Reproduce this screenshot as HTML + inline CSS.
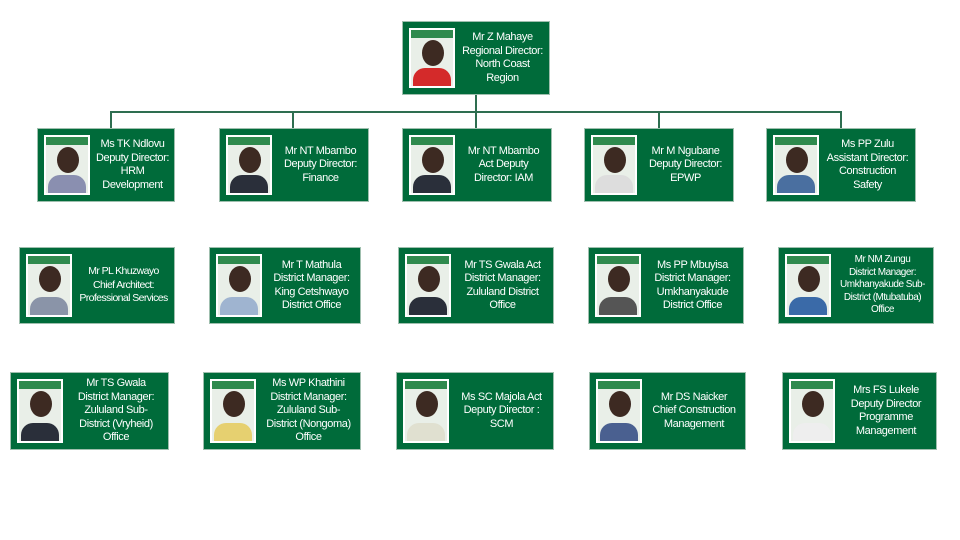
<!DOCTYPE html>
<html><head><meta charset="utf-8"><style>
body{margin:0;width:960px;height:540px;background:#fff;position:relative;overflow:hidden;font-family:"Liberation Sans",sans-serif}
.b{position:absolute;background:#006b3a;border:1px solid #9fbfae;box-sizing:border-box}
.p{position:absolute;left:6px;top:6px;bottom:6px;width:46px;background:#e9efe8;border:2px solid #fff;box-sizing:border-box;overflow:hidden}
.p:before{content:"";position:absolute;left:0;right:0;top:0;height:8px;background:#2f8a4e}
.p .h{position:absolute;left:11px;top:10px;width:22px;height:26px;border-radius:50%;background:#3d2a22}
.p .s{position:absolute;left:2px;right:2px;bottom:0;height:18px;border-radius:12px 12px 0 0;background:#2a2f3a}
.t{position:absolute;left:54px;right:1px;top:0;bottom:0;display:flex;align-items:center;justify-content:center;text-align:center;color:#fff;font-size:11px;line-height:13.5px;letter-spacing:-0.4px;white-space:nowrap}
.l{position:absolute;background:#2e6e50}
</style></head><body>
<div class="l" style="left:475px;top:95px;width:2px;height:34px"></div>
<div class="l" style="left:110px;top:111px;width:732px;height:2px"></div>
<div class="l" style="left:110px;top:111px;width:2px;height:18px"></div>
<div class="l" style="left:292px;top:111px;width:2px;height:18px"></div>
<div class="l" style="left:658px;top:111px;width:2px;height:18px"></div>
<div class="l" style="left:840px;top:111px;width:2px;height:18px"></div>

<div class="b" style="left:402px;top:21px;width:148px;height:74px"><div class="p"><div class="h"></div><div class="s" style="background:#d42a2a"></div></div><div class="t">Mr Z Mahaye<br>Regional Director:<br>North Coast<br>Region</div></div>

<div class="b" style="left:37px;top:128px;width:138px;height:74px"><div class="p"><div class="h"></div><div class="s" style="background:#8a8fb0"></div></div><div class="t">Ms TK Ndlovu<br>Deputy Director:<br>HRM<br>Development</div></div>
<div class="b" style="left:219px;top:128px;width:150px;height:74px"><div class="p"><div class="h"></div><div class="s"></div></div><div class="t">Mr NT Mbambo<br>Deputy Director:<br>Finance</div></div>
<div class="b" style="left:402px;top:128px;width:150px;height:74px"><div class="p"><div class="h"></div><div class="s"></div></div><div class="t">Mr NT Mbambo<br>Act Deputy<br>Director: IAM</div></div>
<div class="b" style="left:584px;top:128px;width:150px;height:74px"><div class="p"><div class="h"></div><div class="s" style="background:#ddd"></div></div><div class="t">Mr M Ngubane<br>Deputy Director:<br>EPWP</div></div>
<div class="b" style="left:766px;top:128px;width:150px;height:74px"><div class="p"><div class="h"></div><div class="s" style="background:#4a6fa0"></div></div><div class="t">Ms PP Zulu<br>Assistant Director:<br>Construction<br>Safety</div></div>

<div class="b" style="left:19px;top:247px;width:156px;height:77px"><div class="p"><div class="h"></div><div class="s" style="background:#8a94a8"></div></div><div class="t" style="font-size:10.5px;letter-spacing:-0.6px">Mr PL Khuzwayo<br>Chief Architect:<br>Professional Services</div></div>
<div class="b" style="left:209px;top:247px;width:152px;height:77px"><div class="p"><div class="h"></div><div class="s" style="background:#9fb4d0"></div></div><div class="t">Mr T Mathula<br>District Manager:<br>King Cetshwayo<br>District Office</div></div>
<div class="b" style="left:398px;top:247px;width:156px;height:77px"><div class="p"><div class="h"></div><div class="s"></div></div><div class="t">Mr TS Gwala Act<br>District Manager:<br>Zululand District<br>Office</div></div>
<div class="b" style="left:588px;top:247px;width:156px;height:77px"><div class="p"><div class="h"></div><div class="s" style="background:#555"></div></div><div class="t">Ms PP Mbuyisa<br>District Manager:<br>Umkhanyakude<br>District Office</div></div>
<div class="b" style="left:778px;top:247px;width:156px;height:77px"><div class="p"><div class="h"></div><div class="s" style="background:#3a6aa8"></div></div><div class="t" style="font-size:10px;line-height:12.5px;letter-spacing:-0.5px">Mr NM Zungu<br>District Manager:<br>Umkhanyakude Sub-<br>District (Mtubatuba)<br>Office</div></div>

<div class="b" style="left:10px;top:372px;width:159px;height:78px"><div class="p"><div class="h"></div><div class="s"></div></div><div class="t">Mr TS Gwala<br>District Manager:<br>Zululand Sub-<br>District (Vryheid)<br>Office</div></div>
<div class="b" style="left:203px;top:372px;width:158px;height:78px"><div class="p"><div class="h"></div><div class="s" style="background:#e6d070"></div></div><div class="t">Ms WP Khathini<br>District Manager:<br>Zululand Sub-<br>District (Nongoma)<br>Office</div></div>
<div class="b" style="left:396px;top:372px;width:158px;height:78px"><div class="p"><div class="h"></div><div class="s" style="background:#e0e0d0"></div></div><div class="t">Ms SC Majola Act<br>Deputy Director :<br>SCM</div></div>
<div class="b" style="left:589px;top:372px;width:157px;height:78px"><div class="p"><div class="h"></div><div class="s" style="background:#4a6090"></div></div><div class="t">Mr DS Naicker<br>Chief Construction<br>Management</div></div>
<div class="b" style="left:782px;top:372px;width:155px;height:78px"><div class="p"><div class="h"></div><div class="s" style="background:#eee"></div></div><div class="t">Mrs FS Lukele<br>Deputy Director<br>Programme<br>Management</div></div>
</body></html>
